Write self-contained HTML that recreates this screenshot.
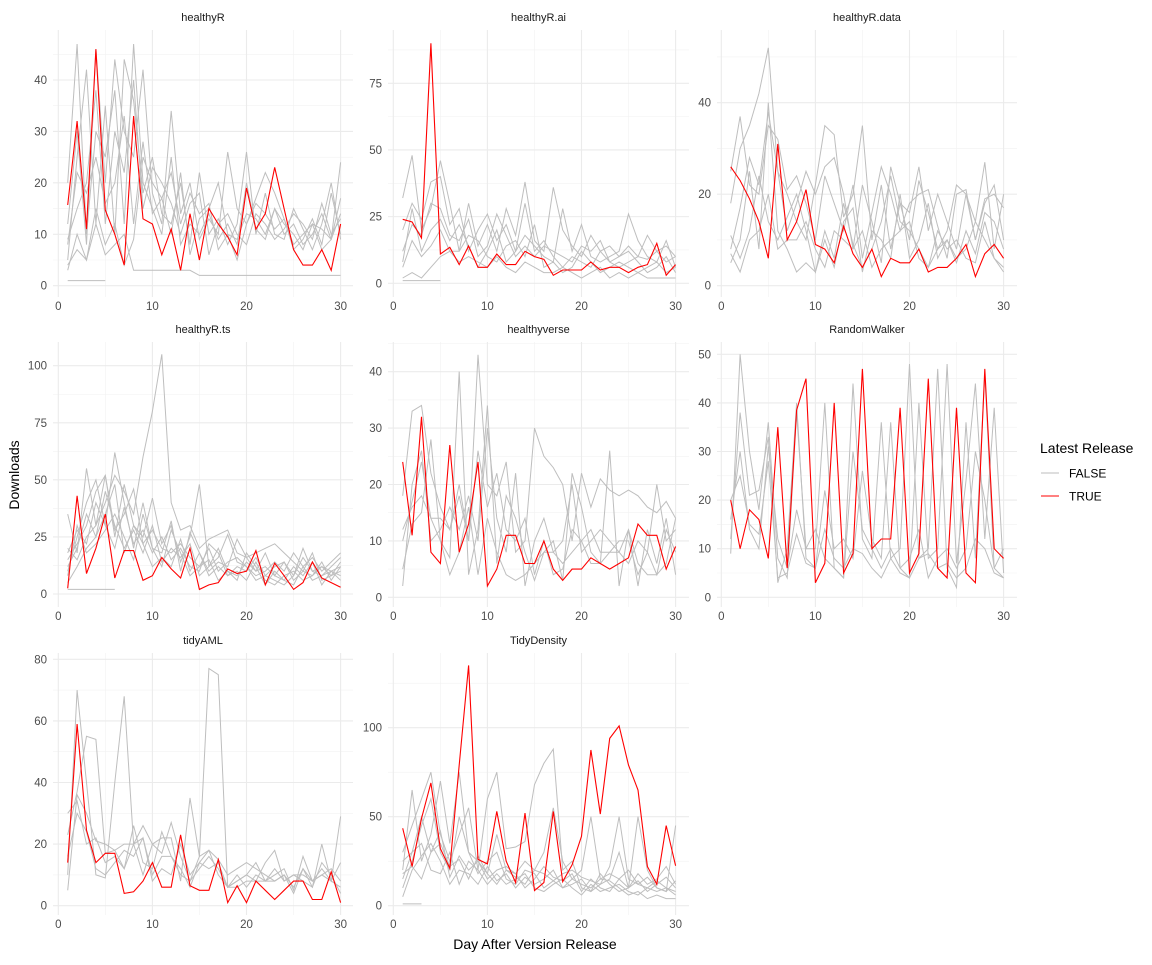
<!DOCTYPE html>
<html><head><meta charset="utf-8">
<style>
body{margin:0;background:#fff;font-family:"Liberation Sans",Arial,sans-serif;}
svg text{font-family:"Liberation Sans",Arial,sans-serif;}
</style></head>
<body>
<svg id="chart" width="1152" height="960" xmlns="http://www.w3.org/2000/svg">
<rect width="1152" height="960" fill="#fff"/>
<text transform="translate(19,475) rotate(-90)" text-anchor="middle" font-size="14" fill="#000">Downloads</text>
<text x="535" y="949" text-anchor="middle" font-size="14" fill="#000">Day After Version Release</text>
<g>
<text x="1040" y="453" font-size="14" fill="#000">Latest Release</text>
<line x1="1041" y1="473" x2="1059" y2="473" stroke="#bebebe" stroke-width="1"/>
<text x="1069" y="477.5" font-size="12" fill="#000">FALSE</text>
<line x1="1041" y1="496" x2="1059" y2="496" stroke="#ff0000" stroke-width="1"/>
<text x="1069" y="500.5" font-size="12" fill="#000">TRUE</text>
</g>
<g id="panels"></g>
</svg>
<script>
const panelNames = ["healthyR","healthyR.ai","healthyR.data","healthyR.ts","healthyverse","RandomWalker","tidyAML","TidyDensity"];
const xTicks = [0,10,20,30];
const yTicksHealthyR = [0,10,20,30,40];
const yTicksAi = [0,25,50,75];
const yTicksData = [0,20,40];
const yTicksTs = [0,25,50,75,100];
const yTicksVerse = [0,10,20,30,40];
const yTicksRW = [0,10,20,30,40,50];
const yTicksAML = [0,20,40,60,80];
const yTicksTD = [0,50,100];
const N = null;

const redHealthyR = [15.7,32,11,46,14.7,10,4,33,13,12,6,11,3,14,5,15,12,9.5,6,19,11,14,23,15,7,4,4,7,3,12];
const greyHealthyR = [
[20,47,10,30,25,38,12,47,20,15,10,25,8,12,10,14,9,12,8,20,11,9,15,10,12,8,10,14,9,24],
[12,30,8,46,20,44,30,25,42,18,12,34,14,20,9,13,10,26,15,12,17,22,18,13,8,10,12,7,9,17],
[5,25,42,12,35,10,44,36,18,25,14,12,20,8,22,10,13,8,12,26,10,18,10,9,15,11,7,12,20,9],
[9,15,20,38,12,30,22,40,15,23,20,16,10,16,18,6,12,14,10,8,14,12,9,11,14,12,9,16,10,13],
[3,10,5,15,8,12,4,9,25,20,17,10,22,6,13,15,20,10,5,12,16,14,11,13,7,9,13,8,18,10],
[4,7,5,12,6,8,10,3,3,3,3,3,3,3,2,2,2,2,2,2,2,2,2,2,2,2,2,2,2,2],
[1,1,1,1,1,N,N,N,N,N,N,N,N,N,N,N,N,N,N,N,N,N,N,N,N,N,N,N,N,N],
[8,22,18,25,16,20,33,12,28,14,17,22,12,18,14,16,7,10,9,14,13,10,15,12,10,7,12,11,9,14]];

const redAi = [24,23,17,90,11,13.5,7,14,6,6,11,7,7,12,10,9,3,5,5,5,8,5,6,6,4,6,7,15,3,7];
const greyAi = [
[32,48,20,28,46,30,12,30,14,22,12,28,18,38,16,12,36,20,14,10,18,12,8,10,14,10,9,12,8,10],
[20,30,24,38,40,22,28,12,20,26,16,22,12,18,14,10,8,28,12,22,10,8,10,12,26,16,10,8,16,6],
[12,22,18,30,28,18,16,24,10,14,26,18,10,14,10,14,12,10,8,14,12,16,8,6,8,10,18,12,14,10],
[8,28,12,20,24,16,22,14,6,12,20,8,12,30,12,16,10,6,10,8,6,12,14,10,12,8,4,6,10,4],
[6,16,10,14,20,12,12,18,16,10,8,14,16,10,22,6,8,4,6,12,8,4,6,8,6,4,6,8,4,6],
[2,4,2,6,10,12,8,10,8,6,10,6,4,8,6,4,4,6,4,2,4,6,2,4,2,4,2,2,2,2],
[1,1,1,1,1,N,N,N,N,N,N,N,N,N,N,N,N,N,N,N,N,N,N,N,N,N,N,N,N,N]];

const redData = [26,23,19,14,6,31,10,14,21,9,8,5,13,7,4,8,2,6,5,5,8,3,4,4,6,9,2,7,9,6];
const greyData = [
[18,30,35,42,52,25,20,14,10,22,35,33,15,20,35,10,22,8,18,16,26,12,20,14,8,20,10,18,22,10],
[8,17,28,22,38,25,12,18,25,20,26,28,20,8,22,14,5,26,18,10,23,16,8,12,22,20,14,27,8,20],
[25,37,22,20,35,32,21,24,18,10,24,18,12,22,6,16,26,20,12,18,20,21,13,6,20,21,10,19,20,17],
[5,10,25,8,40,12,8,3,5,3,12,6,18,9,4,8,14,24,14,12,8,4,12,8,10,6,5,14,6,3],
[11,6,12,24,14,10,15,20,12,3,10,4,14,17,3,12,10,6,20,6,10,18,6,10,5,12,7,16,14,8],
[7,3,10,12,20,8,10,10,14,8,4,12,10,8,12,4,8,10,12,14,6,4,8,10,6,8,14,10,6,4]];

const redTs = [2.5,43,9,20,35,7,19,19,6,8,16,11,7,20,2,4,5,11,9,10,19,4,13.5,8,2,5,14,7,5,3];
const greyTs = [
[20,15,25,30,40,52,45,35,60,80,105,40,28,30,20,24,26,28,18,16,18,20,22,18,14,10,8,12,10,8],
[35,18,55,30,52,25,48,30,25,42,22,30,14,25,48,12,16,26,14,12,6,8,6,4,8,20,10,8,12,16],
[10,25,40,50,30,62,40,20,40,20,18,32,10,27,18,10,14,12,24,16,10,18,8,14,6,10,18,6,8,10],
[15,22,30,45,52,28,35,46,22,28,20,18,22,16,12,20,10,14,16,12,8,10,14,10,18,12,16,10,14,18],
[5,12,20,25,35,48,18,30,22,12,16,12,24,10,18,8,12,8,10,6,14,6,4,8,10,6,8,14,6,12],
[8,30,18,22,28,35,25,15,35,20,12,28,18,8,12,15,6,10,8,14,10,12,8,6,4,12,6,8,10,6],
[2,2,2,2,2,2,N,N,N,N,N,N,N,N,N,N,N,N,N,N,N,N,N,N,N,N,N,N,N,N],
[18,28,22,40,30,20,38,22,28,18,25,15,20,12,10,22,18,8,12,10,16,8,12,14,8,16,10,12,8,14],
[12,20,35,25,45,30,20,28,18,30,14,20,16,22,8,12,20,10,6,18,12,4,10,6,12,8,14,4,10,12]];

const redVerse = [24,11,32,8,6,27,8,13,24,2,5,11,11,6,6,10,5,3,5,5,7,6,5,6,7,13,11,11,5,9];
const greyVerse = [
[18,33,34,22,16,12,20,10,43,20,18,24,8,10,30,25,23,20,10,22,16,21,19,18,19,18,16,15,17,14],
[5,13,15,28,10,7,40,4,12,34,6,18,14,8,3,8,10,3,22,16,8,6,26,2,12,2,12,6,14,4],
[2,20,26,10,12,16,12,18,10,30,14,8,22,2,10,14,8,10,20,8,10,12,10,8,6,10,8,20,10,12],
[10,17,24,14,14,12,18,10,26,16,22,12,10,14,4,10,4,5,12,10,12,8,8,10,10,4,8,4,12,8],
[12,16,18,14,10,4,8,16,4,14,8,4,3,4,6,8,8,6,8,10,6,6,8,8,12,6,4,4,6,14]];

const redRW = [20,10,18,16,8,35,6,38.5,45,3,7,40,5,9,47,10,12,12,39,5,9,45,6,4,39,5,3,47,10,8];
const greyRW = [
[9,50,30,18,36,8,4,38,10,10,40,6,4,44,12,8,36,8,10,48,8,10,47,6,2,36,8,46,6,10],
[12,38,21,22,33,3,10,40,8,6,22,10,12,8,26,12,8,36,6,4,40,8,10,48,7,24,44,12,39,5],
[16,30,14,10,31,12,6,18,10,14,8,6,4,30,14,10,6,10,6,8,14,4,8,10,6,10,30,20,6,4],
[20,25,15,13,28,4,5,13,7,6,14,8,6,10,9,6,4,8,5,4,8,9,6,7,4,6,12,10,5,4]];

const redAML = [14,59,24.5,14,17,17,4,4.5,8,14,6,6,23,6.5,5,5,15,1,6.5,1,8,5,2,5,8,8,2,2,11,1];
const greyAML = [
[10,70,40,10,9,40,68,20,10,20,17,27,16,8,16,77,75,6,8,10,14,8,10,12,5,16,8,12,8,29],
[23,37,55,54,17,18,20,20,22,8,12,10,20,10,14,18,10,6,8,10,8,14,18,8,10,8,6,20,8,14],
[30,34,20,22,14,16,12,20,26,20,22,22,8,35,16,18,15,10,12,14,12,10,8,10,6,12,8,10,12,8],
[5,36,30,21,20,18,12,26,14,12,24,16,12,6,14,12,14,6,6,8,8,8,8,10,4,12,6,14,10,4],
[16,30,24,12,10,14,18,16,22,10,16,16,10,8,12,16,12,6,10,6,10,8,12,8,10,10,8,10,8,6]];

const redTD = [43.5,22,49,69,32,21,79,135,26,23.5,53,25,13,52,8.5,13,53,13.5,23,39,87.5,51.5,94,101,79,65,22,12,45,22.5];
const greyTD = [
[30,45,60,75,40,25,40,55,20,60,75,32,33,36,68,80,88,20,25,10,8,12,15,30,10,50,20,10,8,45],
[20,65,25,40,70,35,75,30,25,18,40,20,18,25,20,30,55,25,15,20,50,15,18,15,10,18,12,15,22,12],
[10,25,45,60,30,20,50,30,18,25,30,15,12,20,18,10,14,18,20,16,14,12,22,50,15,12,10,14,10,8],
[15,30,50,30,42,16,28,20,25,15,20,22,18,10,15,22,16,14,18,8,15,10,8,15,20,12,16,10,8,14],
[5,20,28,35,25,12,20,18,12,22,14,18,10,16,12,15,20,10,12,15,8,18,12,8,10,14,8,12,16,10],
[25,30,35,20,18,30,12,25,20,12,18,12,15,18,10,8,12,15,10,6,12,8,10,12,8,6,10,8,10,6],
[1,1,1,N,N,N,N,N,N,N,N,N,N,N,N,N,N,N,N,N,N,N,N,N,N,N,N,N,N,N],
[18,22,15,30,35,22,26,15,28,18,12,20,16,12,20,18,14,10,15,12,10,15,14,10,6,8,4,6,4,4]];

// layout (pixel geometry, not data)
const cols = [{x0:53,x1:353,zero:58.3,ppu:9.41},{x0:388,x1:689,zero:393.3,ppu:9.41},{x0:717,x1:1017,zero:721.3,ppu:9.41}];
const rows = [{y0:30,y1:297},{y0:342,y1:607},{y0:653,y1:915}];
const panelCfg = [
 {c:0,r:0,ticks:yTicksHealthyR,zero:285.7,ref:40,refY:80,red:redHealthyR,grey:greyHealthyR},
 {c:1,r:0,ticks:yTicksAi,zero:283.3,ref:75,refY:83.3,red:redAi,grey:greyAi},
 {c:2,r:0,ticks:yTicksData,zero:285.7,ref:40,refY:102.7,red:redData,grey:greyData},
 {c:0,r:1,ticks:yTicksTs,zero:594,ref:100,refY:365.7,red:redTs,grey:greyTs},
 {c:1,r:1,ticks:yTicksVerse,zero:597.3,ref:40,refY:371.7,red:redVerse,grey:greyVerse},
 {c:2,r:1,ticks:yTicksRW,zero:597.3,ref:50,refY:354.3,red:redRW,grey:greyRW},
 {c:0,r:2,ticks:yTicksAML,zero:905.7,ref:80,refY:659.3,red:redAML,grey:greyAML},
 {c:1,r:2,ticks:yTicksTD,zero:905.7,ref:100,refY:727.7,red:redTD,grey:greyTD}
];
const NS = "http://www.w3.org/2000/svg";
const root = document.getElementById('panels');
function mk(tag, attrs, parent){const e=document.createElementNS(NS,tag);for(const k in attrs)e.setAttribute(k,attrs[k]);parent.appendChild(e);return e;}

panelCfg.forEach((p,i)=>{
  const col=cols[p.c], row=rows[p.r];
  const xs = v => col.zero + v*col.ppu;
  const yppu = (p.zero - p.refY)/p.ref;
  const ys = v => p.zero - v*yppu;
  const g = mk('g',{},root);
  
  
  const title = mk('text',{x:(col.x0+col.x1)/2,y:row.y0-9,'text-anchor':'middle','font-size':'11',fill:'#1a1a1a'},g);
  title.textContent = panelNames[i];
  
  
  // minor grid
  const step = p.ticks[1]-p.ticks[0];
  for(let v=p.ticks[0]-step/2; v<=p.ticks[p.ticks.length-1]+step; v+=step){
    const y=ys(v); if(y<row.y0||y>row.y1) continue;
    const l=mk('line',{x1:col.x0,x2:col.x1,y1:y,y2:y,stroke:'#f2f2f2','stroke-width':'0.6'},g);
    
    
  }
  for(let v=-5; v<=35; v+=10){
    const x=xs(v); if(x<col.x0||x>col.x1) continue;
    const l=mk('line',{x1:x,x2:x,y1:row.y0,y2:row.y1,stroke:'#f2f2f2','stroke-width':'0.6'},g);
    
    
  }
  p.ticks.forEach(v=>{
    const y=ys(v);
    const l=mk('line',{x1:col.x0,x2:col.x1,y1:y,y2:y,stroke:'#ebebeb','stroke-width':'1.1'},g);
    
    
    const t=mk('text',{x:col.x0-6,y:y+4,'text-anchor':'end','font-size':'11.5',fill:'#4d4d4d'},g);
    t.textContent=v;
    
    
  });
  xTicks.forEach(v=>{
    const x=xs(v);
    const l=mk('line',{x1:x,x2:x,y1:row.y0,y2:row.y1,stroke:'#ebebeb','stroke-width':'1.1'},g);
    
    
    const t=mk('text',{x:x,y:row.y1+13,'text-anchor':'middle','font-size':'11.5',fill:'#4d4d4d'},g);
    t.textContent=v;
    
    
  });
  function pathFor(arr){
    let d='', pen=false;
    arr.forEach((v,j)=>{ if(v===null){pen=false;return;} d+=(pen?'L':'M')+xs(j+1).toFixed(1)+','+ys(v).toFixed(1); pen=true; });
    return d;
  }
  p.grey.forEach(s=>{
    const pa=mk('path',{d:pathFor(s),fill:'none',stroke:'#bebebe','stroke-width':'1'},g);
    
    
  });
  const rp=mk('path',{d:pathFor(p.red),fill:'none',stroke:'#ff0000','stroke-width':'1.1'},g);
  
  
});
</script>
</body></html>
